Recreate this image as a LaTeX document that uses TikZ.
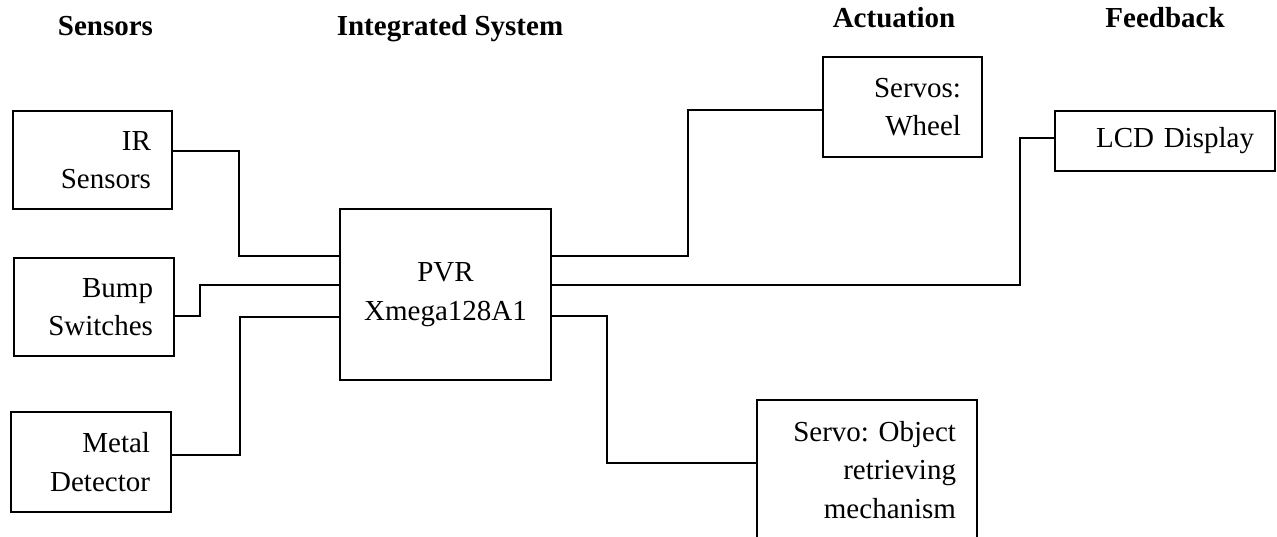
\documentclass[tikz,border=0pt]{standalone}
\usepackage{fontspec}
\setmainfont{Liberation Serif}
\frenchspacing
\begin{document}
\begin{tikzpicture}[x=1pt,y=-1pt,
  box/.style={draw, line width=1.3pt, inner xsep=21pt, inner ysep=0pt, align=right,
    font=\fontsize{29}{38.5}\selectfont\frenchspacing},
  hdr/.style={font=\bfseries\fontsize{29}{35}\selectfont, anchor=base, inner sep=0pt},
  wire/.style={line width=1.3pt}]
\clip (0,0) rectangle (1277,537);
% headers
\node[hdr] (hs) at (105.5,36) {Sensors};
\node[hdr] (hi) at (450,36) {Integrated System};
\node[hdr] (ha) at (894,28) {Actuation};
\node[hdr] (hf) at (1165,28) {Feedback};
% boxes
\node[box, text width=117pt, minimum height=98pt] (ir) at (92.5,160) {IR\\Sensors};
\node[box, text width=118pt, minimum height=98pt] (bump) at (94,307) {Bump\\Switches};
\node[box, text width=118pt, minimum height=100pt] (metal) at (91,462) {Metal\\Detector};
\node[box, align=center, text width=169pt, minimum height=171pt] (pvr) at (445.5,294.5) {PVR\\Xmega128A1};
\node[box, text width=117pt, minimum height=100pt] (servos) at (902.5,107) {Servos:\\Wheel};
\node[box, text width=178pt, minimum height=60pt] (lcd) at (1165,141) {LCD Display};
\node[box, text width=178pt, minimum height=140pt] (obj) at (867,470) {Servo: Object\\retrieving\\mechanism};
% connectors
\draw[wire] (ir.east |- 0,151) -| (239,256) -- (pvr.west |- 0,256);
\draw[wire] (bump.east |- 0,316) -| (200,285) -- (pvr.west |- 0,285);
\draw[wire] (metal.east |- 0,455) -| (240,317) -- (pvr.west |- 0,317);
\draw[wire] (pvr.east |- 0,256) -| (688,110) -- (servos.west |- 0,110);
\draw[wire] (pvr.east |- 0,285) -| (1020,138) -- (lcd.west |- 0,138);
\draw[wire] (pvr.east |- 0,316) -| (607,463) -- (obj.west |- 0,463);
\end{tikzpicture}
\end{document}
